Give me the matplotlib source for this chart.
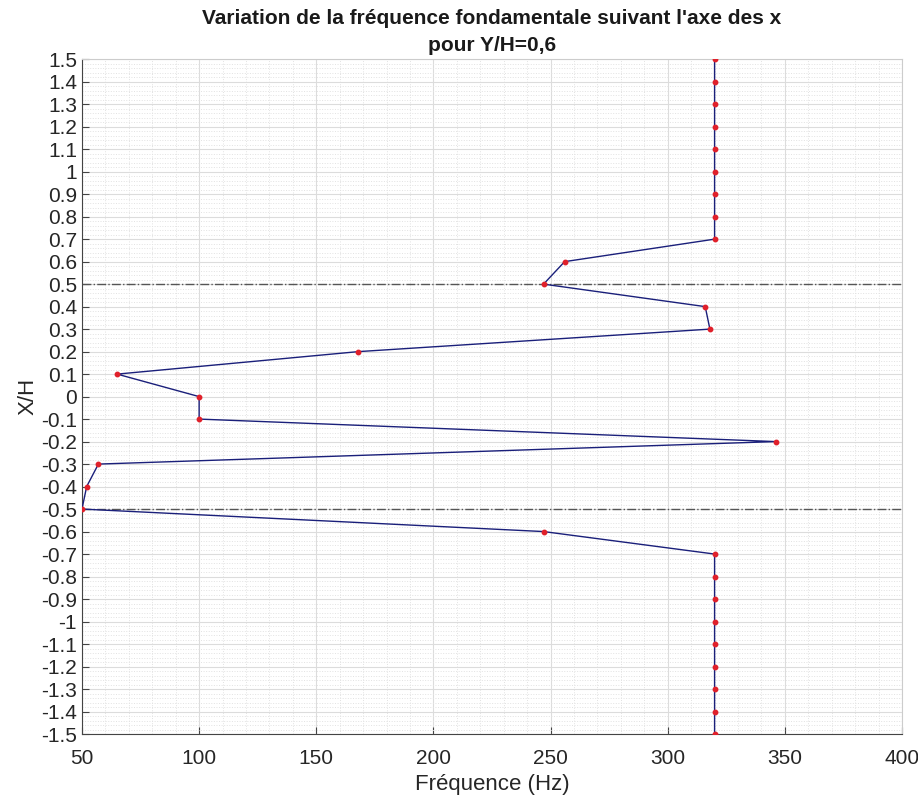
import matplotlib.pyplot as plt
from matplotlib.ticker import MultipleLocator, FuncFormatter
import numpy as np

# X/H positions and fundamental frequency (Hz)
xh = [1.5, 1.4, 1.3, 1.2, 1.1, 1.0, 0.9, 0.8, 0.7, 0.6, 0.5, 0.4, 0.3, 0.2, 0.1, 0.0,
      -0.1, -0.2, -0.3, -0.4, -0.5, -0.6, -0.7, -0.8, -0.9, -1.0, -1.1, -1.2, -1.3, -1.4, -1.5]
freq = [320, 320, 320, 320, 320, 320, 320, 320, 320, 256, 247, 316, 318, 168, 65, 100,
        100, 346, 57, 52, 50, 247, 320, 320, 320, 320, 320, 320, 320, 320, 320]
limits = [0.5, -0.5]  # dash-dot reference lines

plt.rcParams['font.family'] = ['Liberation Sans', 'DejaVu Sans']

fig = plt.figure(figsize=(9.18, 8), dpi=100)
ax = fig.add_axes([0.0893, 0.0825, 0.8933, 0.8435])

for y in limits:
    ax.axhline(y, color='#555555', linestyle='-.', linewidth=1.0, zorder=2)

ax.plot(freq, xh, color='#1a1f7a', linewidth=1.0, zorder=3)
ax.plot(freq, xh, linestyle='none', marker='o', markersize=3.2,
        color='#e0202a', zorder=4)

ax.set_xlim(50, 400)
ax.set_ylim(-1.5, 1.5)
ax.xaxis.set_major_locator(MultipleLocator(50))
ax.xaxis.set_minor_locator(MultipleLocator(10))
ax.set_yticks(np.round(np.arange(-1.5, 1.51, 0.1), 1))
ax.yaxis.set_minor_locator(MultipleLocator(0.02))

def fmt(v, pos):
    s = f"{round(v, 2):g}"
    return '0' if s == '-0' else s

ax.yaxis.set_major_formatter(FuncFormatter(fmt))

ax.grid(True, which='major', color='#dcdcdc', linewidth=0.8)
ax.grid(True, which='minor', color='#e2e2e2', linestyle=':', linewidth=0.7)
ax.set_axisbelow(True)

ax.tick_params(axis='both', which='major', direction='in', length=5,
               labelsize=15, color='#444444', labelcolor='#262626')
ax.tick_params(axis='x', which='major', pad=11)
ax.tick_params(axis='both', which='minor', length=0)
for side in ['left', 'bottom']:
    ax.spines[side].set_color('#444444')
for side in ['top', 'right']:
    ax.spines[side].set_color('#cccccc')

ax.set_xlabel('Fréquence (Hz)', fontsize=16, color='#262626', labelpad=4)
ax.set_ylabel('X/H', fontsize=16, color='#262626', labelpad=2)
ax.set_title("Variation de la fréquence fondamentale suivant l'axe des x\npour Y/H=0,6",
             fontsize=15, fontweight='bold', color='#1a1a1a', pad=6, linespacing=1.5)

fig.savefig('out.png', dpi=100, facecolor='white')
